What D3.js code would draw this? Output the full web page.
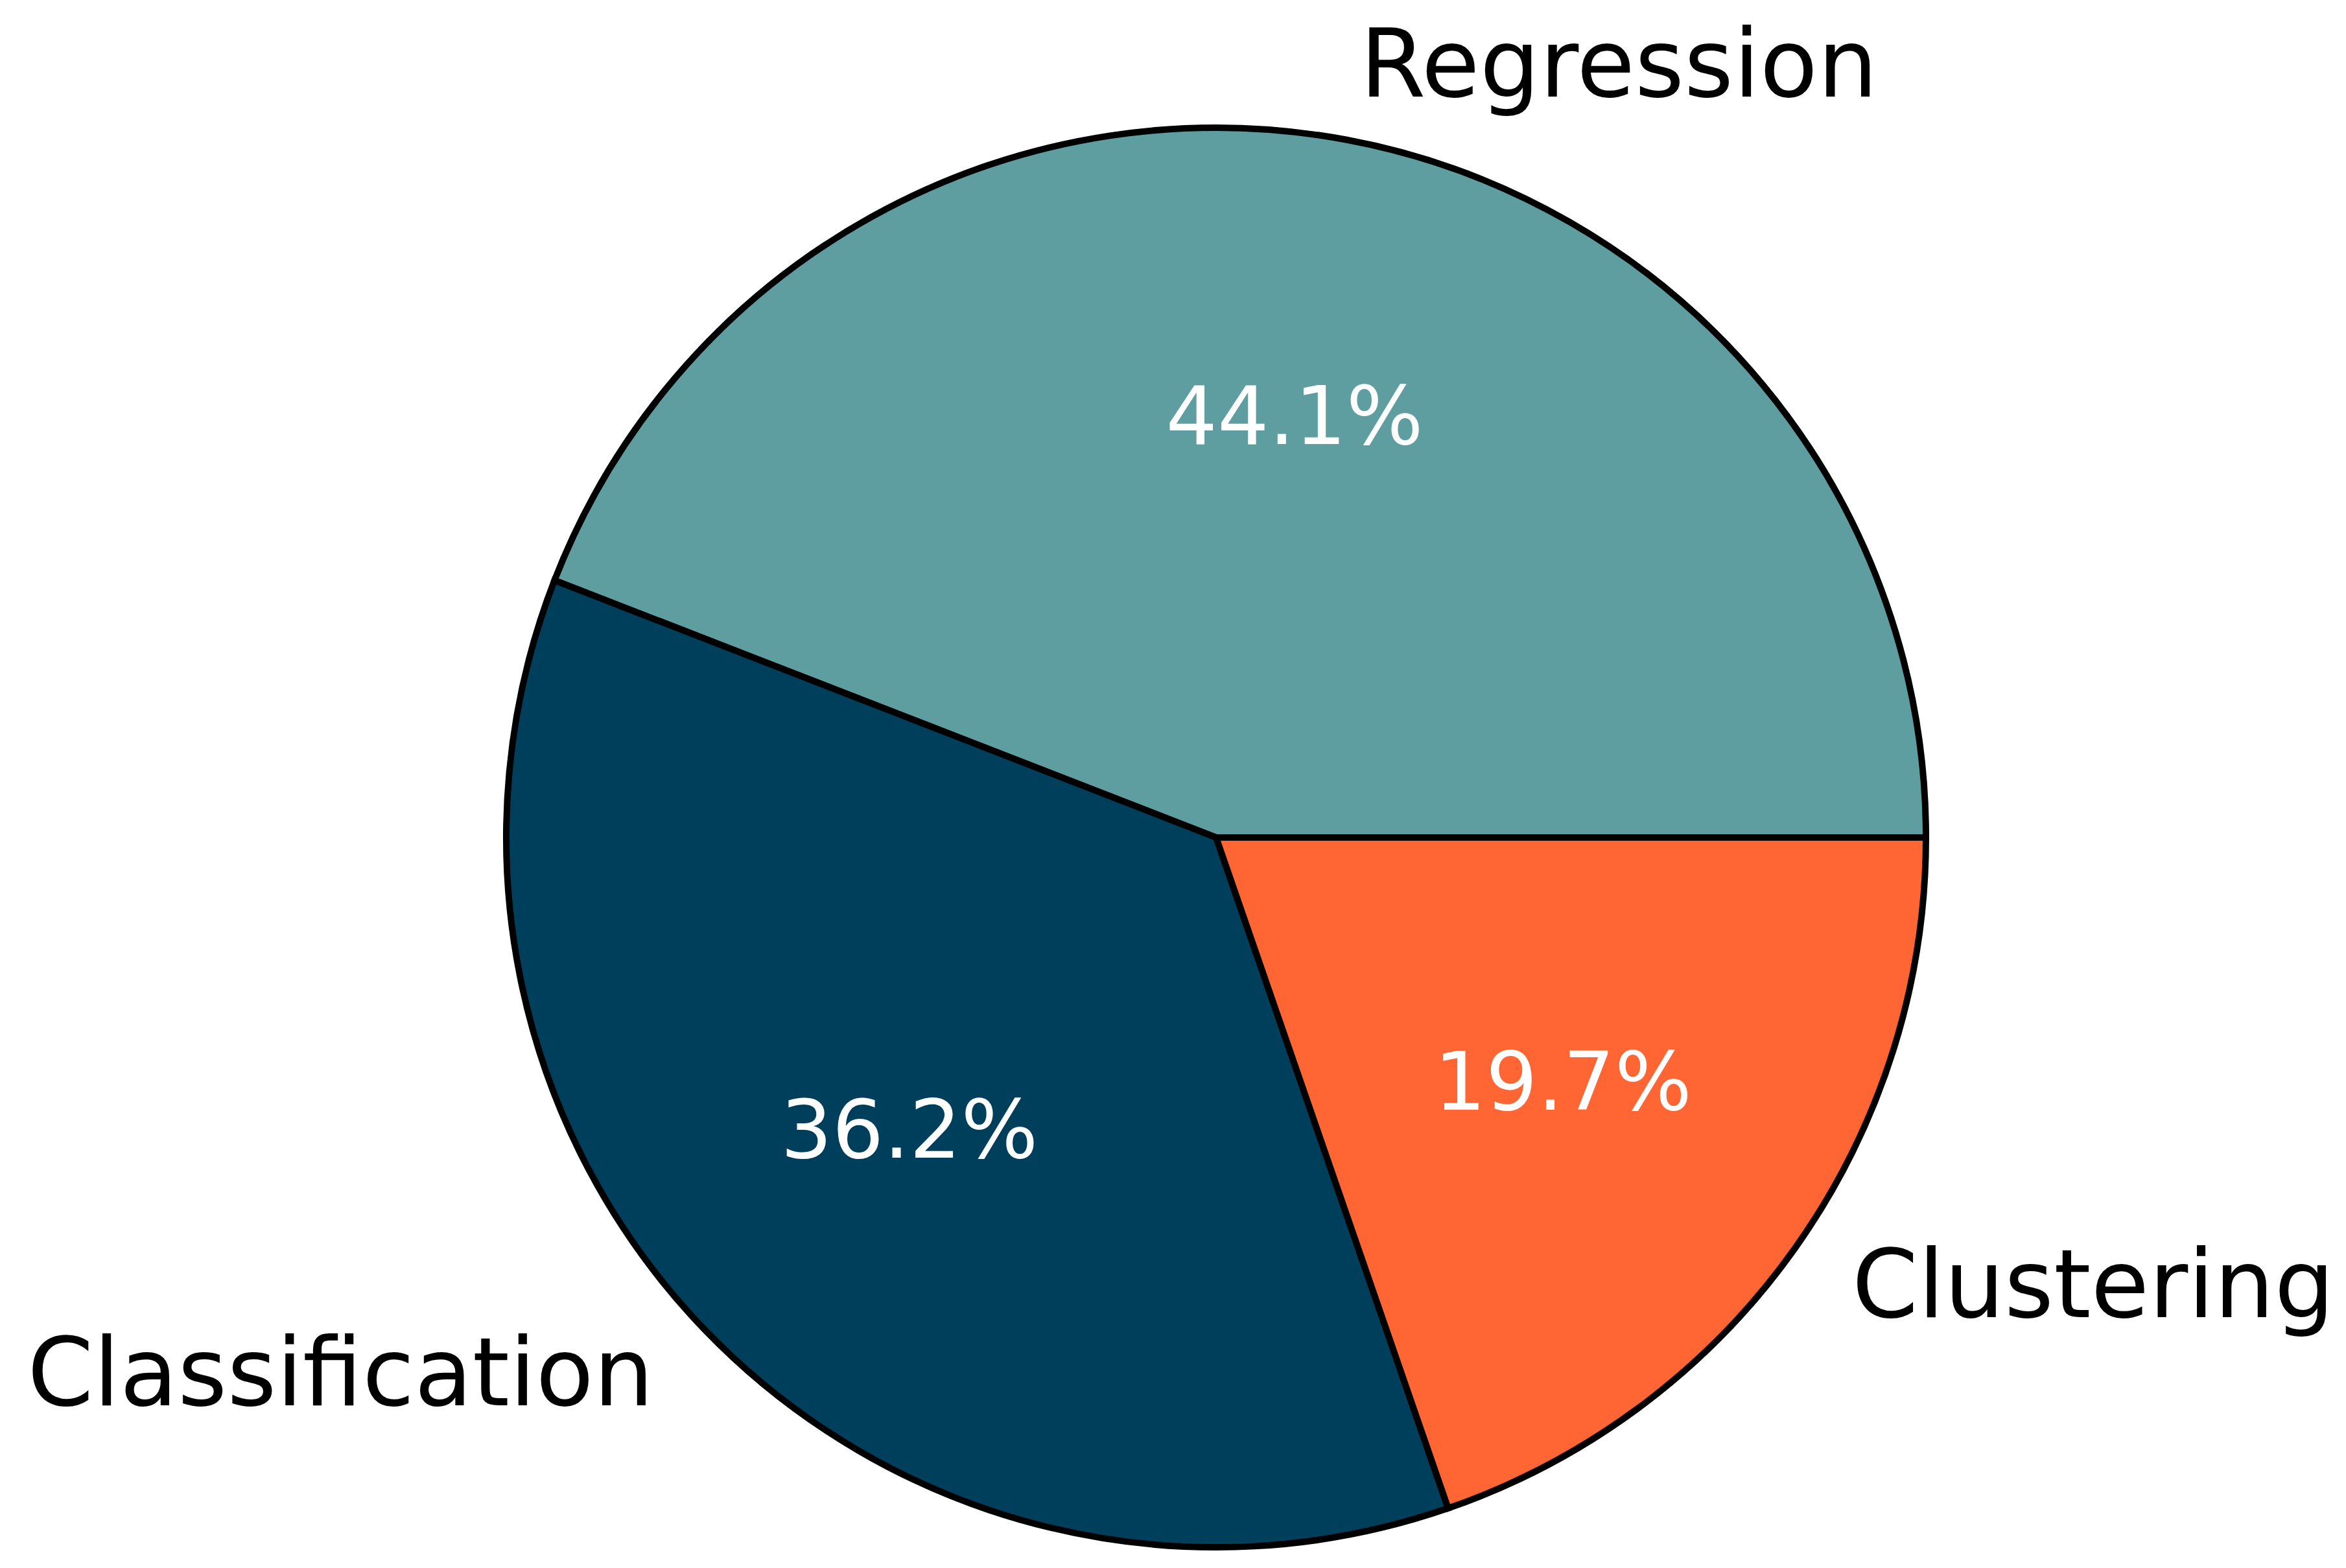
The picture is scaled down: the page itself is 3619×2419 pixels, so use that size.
<!DOCTYPE html>
<html>
<head>
<meta charset="utf-8">
<script src="https://cdn.jsdelivr.net/npm/d3@7"></script>
<style>
html, body { margin: 0; padding: 0; background: #ffffff; }
svg { display: block; }
</style>
</head>
<body>
<svg id="chart"></svg>
<script>
const categories = ["Regression", "Classification", "Clustering"];
const values = [44.1, 36.2, 19.7];
const colors = ["#5F9EA0", "#003F5C", "#FF6633"];

const W = 3619, H = 2419;
const cx = 1876, cy = 1292, R = 1095;
const labelFS = 146, pctFS = 125;

const svg = d3.select("#chart").attr("width", W).attr("height", H);
svg.append("rect").attr("width", W).attr("height", H).attr("fill", "#ffffff");

const data = categories.map((c, i) => ({ name: c, value: values[i] }));
const color = d3.scaleOrdinal().domain(categories).range(colors);

// matplotlib style: start at 3 o'clock, counter-clockwise
const pie = d3.pie().sort(null).value(d => d.value)
  .startAngle(Math.PI / 2).endAngle(Math.PI / 2 - 2 * Math.PI);
const arcs = pie(data);
const total = d3.sum(values);

const arc = d3.arc().innerRadius(0).outerRadius(R);
const labelArc = d3.arc().innerRadius(R * 1.1).outerRadius(R * 1.1);
const pctArc = d3.arc().innerRadius(R * 0.6).outerRadius(R * 0.6);

const g = svg.append("g").attr("transform", `translate(${cx},${cy})`);

g.selectAll("path.slice").data(arcs).join("path")
  .attr("class", "slice")
  .attr("d", arc)
  .attr("fill", d => color(d.data.name))
  .attr("stroke", "#000000")
  .attr("stroke-width", 10)
  .attr("stroke-linejoin", "miter");

g.selectAll("text.lbl").data(arcs).join("text")
  .attr("class", "lbl")
  .attr("x", d => labelArc.centroid(d)[0])
  .attr("y", d => labelArc.centroid(d)[1] + labelFS * 0.28)
  .attr("text-anchor", d => labelArc.centroid(d)[0] >= 0 ? "start" : "end")
  .attr("font-family", "'DejaVu Sans', sans-serif")
  .attr("font-size", labelFS)
  .attr("fill", "#000000")
  .text(d => d.data.name);

g.selectAll("text.pct").data(arcs).join("text")
  .attr("class", "pct")
  .attr("x", d => pctArc.centroid(d)[0])
  .attr("y", d => pctArc.centroid(d)[1] + pctFS * 0.31)
  .attr("text-anchor", "middle")
  .attr("font-family", "'DejaVu Sans', sans-serif")
  .attr("font-size", pctFS)
  .attr("fill", "#ffffff")
  .text(d => (d.data.value / total * 100).toFixed(1) + "%");
</script>
</body>
</html>
